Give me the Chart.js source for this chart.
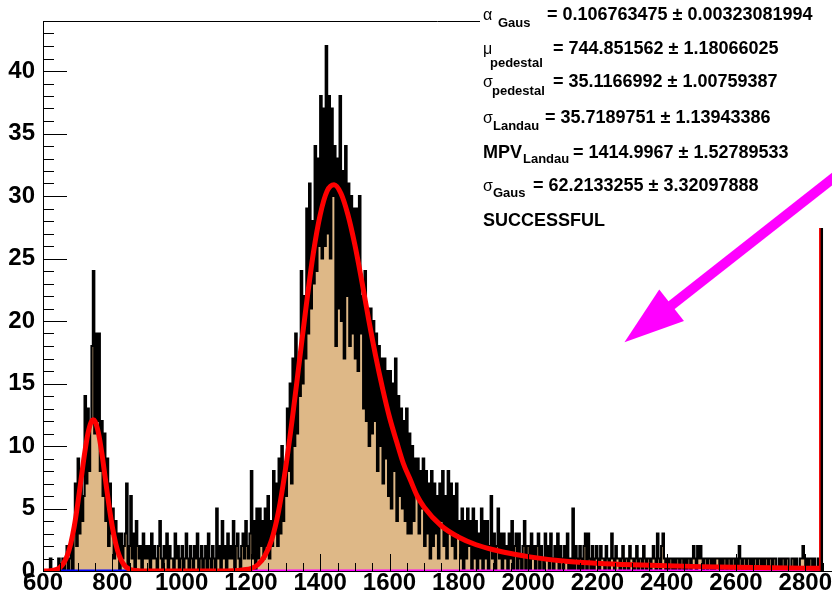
<!DOCTYPE html>
<html>
<head>
<meta charset="UTF-8">
<title>pedestal + Landau fit</title>
<script src="https://cdn.jsdelivr.net/npm/chart.js"></script>
<style>
  html, body { margin: 0; padding: 0; background: #fff; overflow: hidden; }
  canvas { display: block; }
</style>
</head>
<body>
<canvas id="spectrum" width="832" height="602"></canvas>
<script>
// histogram: 4-unit bins starting at 600
const binStart = 600;
const binWidth = 4;
const counts = [
  // 600 - 700
  0,0,0,0,0, 1,0,0,0,0, 0,1,0,0,1, 0,1,2,0,1, 2,0,3,7,2,
  // 700 - 800
  9,3,8,4,6, 14,7,13,8,12, 18,24,11,19,12, 19,8,12,6,11, 4,9,2,7,3,
  // 800 - 900
  5,1,4,2,3, 0,3,1,2,3, 7,0,2,6,1, 3,0,4,2,1, 2,0,3,1,2,
  // 900 - 1000
  1,2,0,3,1, 2,1,0,2,4, 1,0,2,1,3, 0,2,1,1,0, 3,1,2,0,1,
  // 1000 - 1100
  2,0,1,3,1, 0,2,1,0,2, 1,3,0,1,2, 0,1,2,0,3, 1,0,2,1,0,
  // 1100 - 1200
  5,1,2,0,4, 1,2,0,3,1, 2,1,4,0,2, 3,1,0,2,3, 1,4,2,1,3,
  // 1200 - 1300
  8,1,4,0,5, 1,5,2,4,1, 5,2,6,1,4, 2,8,3,7,2, 9,3,10,4,8,
  // 1300 - 1400
  6,13,8,15,7, 17,10,19,11,16, 14,24,15,22,17, 29,19,31,21,28, 23,34,24,33,26,
  // 1400 - 1500
  38,25,37,26,42, 27,38,25,37,30, 34,18,33,21,38, 20,32,17,34,22, 31,18,30,19,29,
  // 1500 - 1600
  17,29,16,30,19, 22,13,24,12,21, 10,21,11,20,12, 19,8,18,10,17, 7,17,9,16,6,
  // 1600 - 1700
  16,5,15,8,17, 4,14,6,13,5, 12,4,13,3,11, 3,10,4,9,6, 9,3,8,5,9,
  // 1700 - 1800
  2,8,3,7,1, 8,2,7,3,6, 1,7,4,8,2, 6,1,8,3,7, 2,6,1,7,3,
  // 1800 - 1900
  4,1,5,0,4, 1,5,2,4,0, 5,1,4,0,3, 1,5,0,4,1, 4,0,2,6,1,
  // 1900 - 2000
  3,0,2,5,1, 3,0,3,1,2, 0,3,1,4,0, 2,3,0,3,1, 0,2,4,0,2,
  // 2000 - 2100
  2,0,3,1,2, 0,2,3,0,2, 1,0,3,1,2, 0,3,1,0,2, 1,3,0,2,1,
  // 2100 - 2200
  0,2,1,3,0, 1,0,5,0,2, 1,0,2,1,0, 2,3,0,3,1, 0,2,0,1,2,
  // 2200 - 2300
  1,0,2,1,1, 0,2,1,0,1, 3,1,0,2,1, 1,0,1,2,0, 1,1,0,2,1,
  // 2300 - 2400
  1,0,1,2,0, 1,1,0,2,1, 0,1,1,0,1, 2,1,0,3,1, 0,2,3,1,0,
  // 2400 - 2500
  1,0,1,1,0, 1,0,1,1,0, 1,1,0,1,0, 1,1,0,1,2, 1,0,2,1,2,
  // 2500 - 2600
  1,0,1,1,0, 1,1,0,1,0, 1,1,1,0,1, 0,1,1,0,1, 1,0,1,1,0,
  // 2600 - 2700
  1,0,2,1,0, 1,1,0,1,1, 0,1,0,1,1, 0,1,1,0,1, 0,1,1,0,1,
  // 2700 - 2800
  1,0,1,1,0, 0,1,0,1,1, 0,1,1,0,0, 1,1,0,1,0, 0,1,1,2,1,
  // 2800 - 2848
  0,1,0,1,1, 0,1,0,0,1, 0,40
];

// total fit: gaussian pedestal + Landau (x) Gauss
const fitX = [600,620,640,650,660,670,680,690,700,710,720,730,740,745,750,760,770,780,790,800,
  810,820,830,840,850,860,880,900,1000,1100,1150,1180,1200,1220,1240,1260,1280,1300,1320,1340,
  1360,1380,1400,1420,1440,1460,1480,1500,1520,1540,1560,1580,1600,1620,1640,1660,1680,1700,1750,1800,
  1850,1900,1950,2000,2100,2200,2300,2400,2500,2600,2700,2800,2840];
const fitY = [0.00,0.02,0.14,0.31,0.65,1.23,2.18,3.54,5.32,7.36,9.39,11.04,11.98,12.1,11.98,11.04,9.39,7.36,5.32,3.54,
  2.18,1.23,0.65,0.31,0.14,0.06,0.01,0,0,0,0.02,0.1,0.2,0.5,1.2,2.5,4.8,8.2,12.3,16.8,
  21.3,25.4,28.5,30.4,30.9,30.2,28.5,26.1,23.2,20.1,17.2,14.6,12.3,10.4,8.6,7.3,6.0,5.1,3.6,2.7,
  2.1,1.7,1.4,1.15,0.8,0.62,0.5,0.42,0.35,0.3,0.26,0.23,0.22];

// components drawn flat along the axis
const pedestalX = [600, 860];
const pedestalY = [0, 0];
const signalX = [860, 2842];
const signalY = [0, 0];
const edgeX = [2842, 2842];
const edgeY = [0, 44];

const xTicks = [600, 800, 1000, 1200, 1400, 1600, 1800, 2000, 2200, 2400, 2600, 2800];
const yTicks = [0, 5, 10, 15, 20, 25, 30, 35, 40];

const statLines = [
  { sym: 'α', sub: 'Gaus', text: '= 0.106763475 ± 0.00323081994' },
  { sym: 'μ', sub: 'pedestal', text: '= 744.851562 ± 1.18066025' },
  { sym: 'σ', sub: 'pedestal', text: '= 35.1166992 ± 1.00759387' },
  { sym: 'σ', sub: 'Landau', text: '= 35.7189751 ± 1.13943386' },
  { sym: 'MPV', sub: 'Landau', text: '= 1414.9967 ± 1.52789533' },
  { sym: 'σ', sub: 'Gaus', text: '= 62.2133255 ± 3.32097888' },
  { sym: 'SUCCESSFUL', sub: '', text: '' }
];

const toXY = (xs, ys) => xs.map((x, i) => ({ x: x, y: ys[i] }));

const histPoints = counts.map((c, i) => ({ x: binStart + i * binWidth, y: c }));
histPoints.push({ x: binStart + counts.length * binWidth, y: 0 });

const FONT = '"Liberation Sans", Arial, Helvetica, sans-serif';

// inward ticks, top frame, stats pave and arrow
const decorations = {
  id: 'decorations',
  afterDatasetsDraw(chart) {
    const { ctx, chartArea: a, scales: { x, y } } = chart;
    ctx.save();
    ctx.strokeStyle = '#000';
    ctx.lineWidth = 1;
    ctx.beginPath();
    for (let v = 0; v <= 44; v++) {
      const py = Math.round(y.getPixelForValue(v)) + 0.5;
      const len = v % 5 === 0 ? 24 : 11;
      ctx.moveTo(a.left, py);
      ctx.lineTo(a.left + len, py);
    }
    for (let v = 600; v <= 2875; v += 50) {
      const px = Math.round(x.getPixelForValue(v)) + 0.5;
      const len = (v - 600) % 200 === 0 ? 17 : 8;
      ctx.moveTo(px, a.bottom);
      ctx.lineTo(px, a.bottom - len);
    }
    ctx.moveTo(a.left, a.top + 0.5);
    ctx.lineTo(a.right, a.top + 0.5);
    ctx.stroke();

    // fit result pave
    ctx.fillStyle = '#fff';
    ctx.fillRect(480, 0, chart.width - 480, 228);

    const base = [20, 54, 87, 123, 158, 191, 226];
    const subBase = [27, 67, 95, 130, 163, 197];
    const subX = [498, 490, 492, 493, 523, 493];
    const textX = [547, 553, 553, 545, 573, 533];
    ctx.fillStyle = '#000';
    ctx.textBaseline = 'alphabetic';
    ctx.textAlign = 'left';
    statLines.forEach((l, i) => {
      const bold = l.sym.length > 1;
      ctx.font = (bold ? 'bold 18px ' : '16px ') + FONT;
      ctx.fillText(l.sym, 483, base[i]);
      if (l.sub) {
        ctx.font = 'bold 13px ' + FONT;
        ctx.fillText(l.sub, subX[i], subBase[i]);
        ctx.font = 'bold 18px ' + FONT;
        ctx.fillText(l.text, textX[i], base[i]);
      }
    });

    // arrow pointing into the empty region
    const tail = { x: x.getPixelForValue(2994), y: y.getPixelForValue(33.9) };
    const tip = { x: x.getPixelForValue(2278), y: y.getPixelForValue(18.3) };
    const dx = tip.x - tail.x, dy = tip.y - tail.y;
    const d = Math.hypot(dx, dy);
    const ux = dx / d, uy = dy / d;
    const headLen = 60, headHalf = 20;
    const bx = tip.x - ux * headLen, by = tip.y - uy * headLen;
    ctx.strokeStyle = '#ff00ff';
    ctx.fillStyle = '#ff00ff';
    ctx.lineWidth = 10;
    ctx.beginPath();
    ctx.moveTo(tail.x, tail.y);
    ctx.lineTo(bx + ux * 2, by + uy * 2);
    ctx.stroke();
    ctx.beginPath();
    ctx.moveTo(tip.x, tip.y);
    ctx.lineTo(bx - uy * headHalf, by + ux * headHalf);
    ctx.lineTo(bx + uy * headHalf, by - ux * headHalf);
    ctx.closePath();
    ctx.fill();
    ctx.restore();
  }
};

const plainNumber = v => String(v);

new Chart(document.getElementById('spectrum'), {
  type: 'scatter',
  data: {
    datasets: [
      {
        label: 'edge',
        data: toXY(edgeX, edgeY),
        showLine: true,
        borderColor: '#ff0000',
        borderWidth: 1.5,
        pointRadius: 0,
        order: 0
      },
      {
        label: 'fit',
        data: toXY(fitX, fitY),
        showLine: true,
        borderColor: '#ff0000',
        borderWidth: 5,
        pointRadius: 0,
        cubicInterpolationMode: 'monotone',
        order: 1
      },
      {
        label: 'pedestal',
        data: toXY(pedestalX, pedestalY),
        showLine: true,
        borderColor: '#0000ff',
        borderWidth: 3,
        pointRadius: 0,
        order: 2
      },
      {
        label: 'signal',
        data: toXY(signalX, signalY),
        showLine: true,
        borderColor: '#ff00ff',
        borderWidth: 3,
        pointRadius: 0,
        order: 3
      },
      {
        label: 'data',
        data: histPoints,
        showLine: true,
        stepped: true,
        borderColor: '#000',
        borderWidth: 2.2,
        backgroundColor: '#deb887',
        fill: 'origin',
        pointRadius: 0,
        order: 4
      }
    ]
  },
  options: {
    responsive: false,
    animation: false,
    events: [],
    layout: { padding: { top: 21, right: 0, bottom: 0, left: 0 }, autoPadding: false },
    plugins: { legend: { display: false }, tooltip: { enabled: false } },
    scales: {
      x: {
        type: 'linear',
        min: 600,
        max: 2876,
        afterFit: s => { s.height = 31; },
        afterBuildTicks: s => { s.ticks = xTicks.map(v => ({ value: v })); },
        grid: { drawOnChartArea: false, drawTicks: false },
        border: { display: true, color: '#000', width: 1 },
        ticks: {
          color: '#000',
          padding: 0,
          maxRotation: 0,
          autoSkip: false,
          callback: plainNumber,
          font: { family: FONT, size: 24, weight: 'bold', lineHeight: 1 }
        }
      },
      y: {
        min: 0,
        max: 44,
        afterFit: s => { s.width = 43; },
        afterBuildTicks: s => { s.ticks = yTicks.map(v => ({ value: v })); },
        grid: { drawOnChartArea: false, drawTicks: false },
        border: { display: true, color: '#000', width: 1 },
        ticks: {
          color: '#000',
          padding: 8,
          autoSkip: false,
          callback: plainNumber,
          font: { family: FONT, size: 24, weight: 'bold', lineHeight: 1 }
        }
      }
    }
  },
  plugins: [decorations]
});
</script>
</body>
</html>
